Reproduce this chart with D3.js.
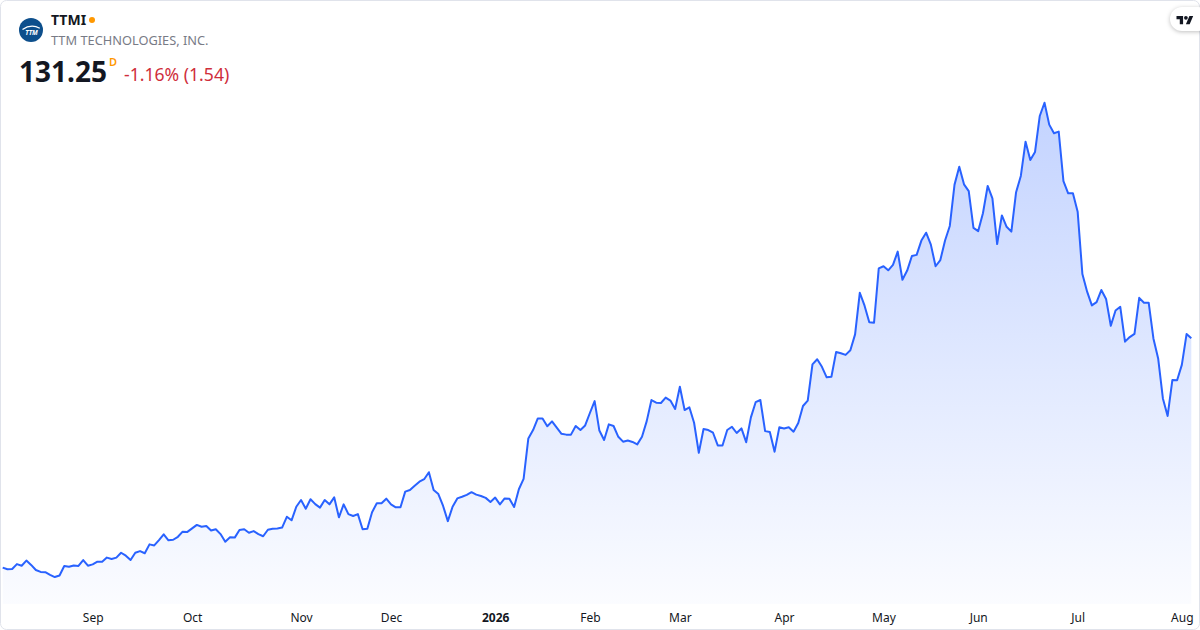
<!DOCTYPE html>
<html lang="en">
<head>
    <meta charset="UTF-8">
    <script src="https://d3js.org/d3.v7.min.js"></script>
    <title>TTMI</title>
    <style>
        body { margin: 0; background: #fff; }
        text { font-family: "Noto Sans", "Open Sans", sans-serif; }
    </style>
</head>
<body>
    <script>
        // daily closes, first session 2025-08-05
        const closes = [
            46.4, 45.8, 45.9, 47.7, 47.1, 49.0, 47.4, 45.5, 44.8, 44.7,
            43.7, 42.9, 43.5, 47.0, 46.7, 47.2, 47.0, 49.2, 47.1, 47.6,
            48.6, 48.6, 50.1, 49.6, 50.1, 51.9, 50.8, 49.2, 51.9, 52.5,
            51.7, 55.0, 54.6, 56.6, 58.7, 56.5, 56.7, 57.8, 59.7, 59.6,
            60.9, 62.2, 61.5,
            61.8, 60.1, 60.6, 58.8, 56.0, 57.6, 57.5, 60.3, 60.6, 59.3,
            59.9, 58.8, 58.0, 60.4, 60.8, 60.9, 61.2, 65.2, 63.9, 68.9,
            71.4, 68.2, 71.7, 69.9, 68.6, 71.4, 69.8, 72.4, 65.0, 69.8,
            66.2, 65.5, 66.2, 60.6, 60.8, 66.9, 70.2, 70.2, 71.9, 69.8,
            68.7, 68.7, 74.5,
            75.1, 76.7, 78.2, 79.1, 81.7, 75.1, 73.6, 69.2, 63.6, 68.9,
            72.0, 72.6, 73.3, 74.3, 73.4, 72.9, 72.2, 70.7, 72.3, 69.8,
            72.0, 71.9, 68.8, 75.4, 79.2, 94.2, 97.3, 101.6, 101.6, 98.7,
            100.5, 98.2, 95.9, 95.6, 95.6, 98.8, 97.3, 99.0, 103.6, 108.0,
            97.1, 93.6,
            99.4, 98.8, 94.8, 93.0, 93.4, 92.9, 92.0, 94.8, 100.6, 108.4,
            107.4, 107.3, 109.3, 108.2, 105.1, 113.3, 104.7, 105.7, 100.0, 88.9,
            97.7, 97.3, 96.3, 91.6, 91.6, 97.3, 98.5, 96.2, 97.9, 92.8,
            102.0, 107.6, 108.4, 96.9, 96.6, 89.3, 98.3, 97.9, 98.3, 96.7,
            99.9, 106.2,
            108.2, 121.6, 123.5, 120.7, 116.8, 117.0, 126.2, 125.7, 125.1, 126.8,
            132.7, 148.1, 143.3, 137.2, 137.0, 157.1, 157.9, 156.4, 158.4, 163.3,
            152.9, 156.3, 161.7, 162.1, 167.4, 170.3, 165.9, 157.9, 160.2, 167.4,
            172.8, 188.1, 194.7, 188.2, 185.7, 172.1, 170.9, 177.5, 187.6, 183.0,
            166.1, 176.7,
            172.5, 170.7, 185.3, 191.3, 204.0, 197.2, 200.2, 213.5, 218.4, 210.3,
            207.1, 207.7, 189.4, 184.9, 184.9, 178.1, 155.0, 148.5, 143.4, 144.6,
            149.1, 145.8, 135.9, 141.5, 142.9, 130.0, 131.7, 132.9, 146.2, 144.4,
            144.4, 131.2, 123.8, 109.0, 102.5, 115.8, 115.7, 121.4, 132.79, 131.25
        ];
        const firstSession = "2025-08-05";
        const holidays = ["2025-09-01", "2025-11-27", "2025-12-25", "2026-01-01", "2026-01-19",
                          "2026-02-16", "2026-04-03", "2026-05-25", "2026-06-19", "2026-07-03"];
        const tickLabels = ["Sep", "Oct", "Nov", "Dec", "2026", "Feb", "Mar", "Apr", "May", "Jun", "Jul", "Aug"];

        const width = 1200;
        const height = 630;

        // trading calendar: weekdays minus exchange holidays
        const fmt = d3.utcFormat("%Y-%m-%d");
        let dates = [];
        let day = new Date(firstSession + "T00:00:00Z");
        while (dates.length < closes.length) {
            let wd = day.getUTCDay();
            if (wd != 0 && wd != 6 && holidays.indexOf(fmt(day)) < 0) dates.push(new Date(day));
            day = d3.utcDay.offset(day, 1);
        }
        let data = closes.map((c, i) => ({ i: i, date: dates[i], close: c }));

        // first session of each month gets a label
        let ticks = [];
        for (let i = 1; i < dates.length; i++) {
            if (dates[i].getUTCMonth() != dates[i - 1].getUTCMonth()) ticks.push(i);
        }

        let x = d3.scaleLinear().domain([0, closes.length - 1]).range([2.7, 1191.3]);
        let y = d3.scaleLinear().domain([40, 220]).range([584.9, 98.4]);
        let bottom = 604;

        let svg = d3.select("body")
            .append("svg")
            .attr("width", width)
            .attr("height", height);

        let grad = svg.append("defs")
            .append("linearGradient")
            .attr("id", "fillGrad")
            .attr("gradientUnits", "userSpaceOnUse")
            .attr("x1", 0).attr("x2", 0)
            .attr("y1", y(d3.max(closes))).attr("y2", bottom);
        grad.append("stop").attr("offset", "0%").attr("stop-color", "#2962ff").attr("stop-opacity", 0.28);
        grad.append("stop").attr("offset", "100%").attr("stop-color", "#2962ff").attr("stop-opacity", 0.02);

        svg.append("rect")
            .attr("x", 0.5).attr("y", 0.5)
            .attr("width", width - 1).attr("height", height - 1)
            .attr("rx", 6)
            .attr("fill", "#fff")
            .attr("stroke", "#e0e3eb");

        let area = d3.area()
            .x(d => x(d.i))
            .y0(bottom)
            .y1(d => y(d.close));
        let line = d3.line()
            .x(d => x(d.i))
            .y(d => y(d.close));

        svg.append("path")
            .datum(data)
            .attr("d", area)
            .attr("fill", "url(#fillGrad)");

        svg.append("path")
            .datum(data)
            .attr("d", line)
            .attr("fill", "none")
            .attr("stroke", "#2962ff")
            .attr("stroke-width", 2)
            .attr("stroke-linejoin", "round");

        // x axis, labels only
        let xAxis = d3.axisBottom(x)
            .tickValues(ticks)
            .tickFormat((d, k) => tickLabels[k])
            .tickSize(0)
            .tickPadding(0);
        let axisG = svg.append("g")
            .attr("transform", "translate(0, 613)")
            .call(xAxis);
        axisG.select(".domain").remove();
        axisG.selectAll("text")
            .attr("fill", "#131722")
            .attr("font-size", 12)
            .attr("font-weight", d => dates[d].getUTCMonth() == 0 ? 700 : 400);

        // header
        let head = svg.append("g");
        head.append("circle").attr("cx", 31).attr("cy", 30).attr("r", 12).attr("fill", "#0d4f8c");
        head.append("path")
            .attr("d", "M22.5 29.5 Q31 23.5 39.8 28.2")
            .attr("fill", "none").attr("stroke", "#fff").attr("stroke-width", 1.3);
        head.append("text")
            .attr("x", 31.5).attr("y", 34.5)
            .attr("text-anchor", "middle")
            .attr("font-size", 6.5).attr("font-weight", 700).attr("font-style", "italic")
            .attr("fill", "#fff")
            .text("TTM");
        head.append("text")
            .attr("x", 51).attr("y", 25)
            .attr("font-size", 14).attr("font-weight", 700).attr("fill", "#131722")
            .text("TTMI");
        head.append("circle").attr("cx", 92).attr("cy", 20).attr("r", 3).attr("fill", "#ff9800");
        head.append("text")
            .attr("x", 51).attr("y", 45)
            .attr("font-size", 12.8).attr("fill", "#787b86")
            .text("TTM TECHNOLOGIES, INC.");
        head.append("text")
            .attr("x", 19).attr("y", 82)
            .attr("font-size", 28).attr("font-weight", 700).attr("fill", "#131722")
            .text("131.25");
        head.append("text")
            .attr("x", 109).attr("y", 66)
            .attr("font-size", 11).attr("font-weight", 600).attr("fill", "#ff9800")
            .text("D");
        head.append("text")
            .attr("x", 124).attr("y", 81)
            .attr("font-size", 17.6).attr("fill", "#cf2e3b")
            .text("-1.16% (1.54)");

        // tradingview badge, top right
        let badge = svg.append("g");
        badge.append("rect")
            .attr("x", 1170).attr("y", 7).attr("width", 40).attr("height", 24).attr("rx", 12)
            .attr("fill", "#fff")
            .style("filter", "drop-shadow(0 1px 2px rgba(0,0,0,0.25))");
        badge.append("g")
            .attr("transform", "translate(1176.5, 14) scale(0.47)")
            .call(g => {
                g.append("path").attr("d", "M14 22H7V11H0V4h14v18zM28 22h-8l7.5-18h8L28 22z").attr("fill", "#131722");
                g.append("circle").attr("cx", 20).attr("cy", 8).attr("r", 4).attr("fill", "#131722");
            });
    </script>
</body>
</html>
